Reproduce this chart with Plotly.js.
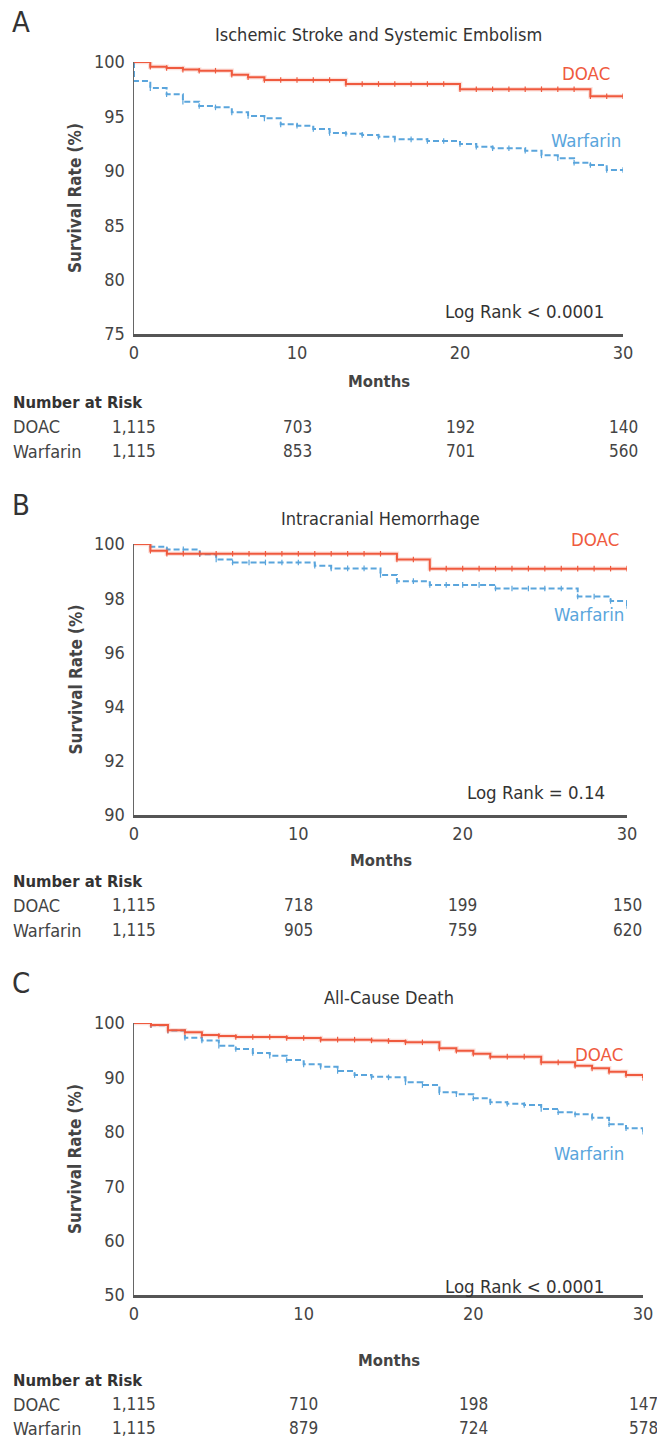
<!DOCTYPE html>
<html>
<head>
<meta charset="utf-8">
<script src="https://cdn.plot.ly/plotly-3.0.1.min.js"></script>
<style>html,body{margin:0;padding:0;background:#fff;}#chart{width:657px;height:1440px;}</style>
</head>
<body>
<div id="chart"></div>
<script>
// ---------- DATA ----------
var monthTicks = [0, 10, 20, 30];

// Panel A: Ischemic Stroke and Systemic Embolism
var aDoacT = [0,1,2,3,4,5,6,7,8,9,10,11,12,13,14,15,16,17,18,19,20,21,22,23,24,25,26,27,28,29,30];
var aDoacS = [100,99.57,99.45,99.3,99.2,99.2,98.83,98.6,98.35,98.35,98.35,98.35,98.35,97.98,97.98,97.98,97.98,97.98,97.98,97.98,97.5,97.5,97.5,97.5,97.5,97.5,97.5,97.5,96.85,96.85,96.85];
var aWarfT = [0,0,1,2,3,4,5,6,7,8,9,10,11,12,13,14,15,16,17,18,19,20,21,22,23,24,25,26,27,28,29,30];
var aWarfS = [100,98.25,97.6,97.03,96.35,95.95,95.83,95.37,95.04,94.82,94.27,94.15,93.84,93.47,93.41,93.3,93.14,92.89,92.89,92.74,92.74,92.46,92.22,92.07,92.07,91.85,91.42,91.15,90.75,90.53,90.07,90.07];
var aRiskDoac = ["1,115","703","192","140"];
var aRiskWarf = ["1,115","853","701","560"];

// Panel B: Intracranial Hemorrhage
var bDoacT = [0,1,2,3,4,5,6,7,8,9,10,11,12,13,14,15,16,17,18,19,20,21,22,23,24,25,26,27,28,29,30];
var bDoacS = [100,99.75,99.64,99.64,99.64,99.64,99.64,99.64,99.64,99.64,99.64,99.64,99.64,99.64,99.64,99.64,99.43,99.43,99.09,99.09,99.09,99.09,99.09,99.09,99.09,99.09,99.09,99.09,99.09,99.09,99.09];
var bWarfT = [0,1,2,3,4,5,6,7,8,9,10,11,12,13,14,15,16,17,18,19,20,21,22,23,24,25,26,27,28,29,30];
var bWarfS = [100,99.9,99.8,99.8,99.62,99.43,99.32,99.32,99.32,99.32,99.32,99.2,99.1,99.1,99.1,98.86,98.63,98.63,98.49,98.49,98.49,98.49,98.36,98.36,98.36,98.36,98.36,98.06,98.06,97.9,97.71];
var bRiskDoac = ["1,115","718","199","150"];
var bRiskWarf = ["1,115","905","759","620"];

// Panel C: All-Cause Death
var cDoacT = [0,1,2,3,4,5,6,7,8,9,10,11,12,13,14,15,16,17,18,19,20,21,22,23,24,25,26,27,28,29,30];
var cDoacS = [100,99.63,98.65,98.28,97.8,97.6,97.43,97.43,97.43,97.24,97.24,96.94,96.94,96.94,96.8,96.7,96.45,96.45,95.34,94.92,94.37,93.81,93.81,93.81,92.77,92.77,92.16,91.66,91.06,90.44,89.9];
var cWarfT = [0,1,2,3,4,5,6,7,8,9,10,11,12,13,14,15,16,17,18,19,20,21,22,23,24,25,26,27,28,29,30];
var cWarfS = [100,99.6,98.6,97.3,96.8,95.83,95.22,94.49,94.0,93.2,92.4,91.97,91.18,90.44,90.1,90.01,89.1,88.6,87.26,86.9,86.16,85.42,85.17,84.93,84.19,83.58,83.21,82.6,81.38,80.64,80.0];
var cRiskDoac = ["1,115","710","198","147"];
var cRiskWarf = ["1,115","879","724","578"];

// ---------- STYLE / LAYOUT ----------
var W = 657, H = 1440;
var RED = '#EF5A3E', BLUE = '#5AA5DC', TXT = '#3a3a3a';
var FONT = '"Liberation Sans Narrow", "DejaVu Sans Condensed", "Open Sans", sans-serif';
function px(x){ return x / W; }
function py(y){ return 1 - y / H; }

// censor marks at each month (value of curve at that month)
function censor(T, S){
  var xs = [], ys = [];
  for (var m = 1; m <= 30; m++) {
    var v = S[0];
    for (var i = 0; i < T.length; i++) { if (T[i] <= m) v = S[i]; }
    xs.push(m); ys.push(v);
  }
  return {x: xs, y: ys};
}

var panels = [
  {key:'', dT:aDoacT, dS:aDoacS, wT:aWarfT, wS:aWarfS, rd:aRiskDoac, rw:aRiskWarf,
   x0:134, x1:623, yTop:62, yBot:334, yr:[75,100], dy:5, title:'Ischemic Stroke and Systemic Embolism', letter:'A',
   letterY:22, titleY:34, monthsY:381, narY:402, rowD:427, rowW:451, logText:'Log Rank < 0.0001', logY:311, logX:606,
   dLab:[612,73], wLab:[623,141]},
  {key:'2', dT:bDoacT, dS:bDoacS, wT:bWarfT, wS:bWarfS, rd:bRiskDoac, rw:bRiskWarf,
   x0:134, x1:627, yTop:544, yBot:815, yr:[90,100], dy:2, title:'Intracranial Hemorrhage', letter:'B',
   letterY:505, titleY:519, monthsY:860, narY:881, rowD:905, rowW:930, logText:'Log Rank = 0.14', logY:792, logX:607,
   dLab:[621,539], wLab:[626,615]},
  {key:'3', dT:cDoacT, dS:cDoacS, wT:cWarfT, wS:cWarfS, rd:cRiskDoac, rw:cRiskWarf,
   x0:134, x1:643, yTop:1023, yBot:1295, yr:[50,100], dy:10, title:'All-Cause Death', letter:'C',
   letterY:983, titleY:997, monthsY:1360, narY:1380, rowD:1404, rowW:1428, logText:'Log Rank < 0.0001', logY:1286, logX:606,
   dLab:[625,1054], wLab:[626,1153]}
];

var data = [];
var layout = {
  width: W, height: H,
  margin: {l:0, r:0, t:0, b:0},
  paper_bgcolor: '#fff', plot_bgcolor: '#fff',
  showlegend: false,
  font: {family: FONT, color: TXT},
  annotations: []
};

panels.forEach(function(p){
  var xa = 'x' + p.key, ya = 'y' + p.key;
  // Warfarin
  data.push({x:p.wT, y:p.wS, xaxis:xa, yaxis:ya, type:'scatter', mode:'lines',
    line:{shape:'hv', color:BLUE, width:2, dash:'6px,3px'}, hoverinfo:'skip'});
  var cw = censor(p.wT, p.wS);
  data.push({x:cw.x, y:cw.y, xaxis:xa, yaxis:ya, type:'scatter', mode:'markers',
    marker:{symbol:'line-ns', size:4, line:{color:BLUE, width:1.2}}, hoverinfo:'skip'});
  // DOAC halo + line
  data.push({x:p.dT, y:p.dS, xaxis:xa, yaxis:ya, type:'scatter', mode:'lines',
    line:{shape:'hv', color:'rgba(239,90,62,0.18)', width:4.5}, hoverinfo:'skip'});
  data.push({x:p.dT, y:p.dS, xaxis:xa, yaxis:ya, type:'scatter', mode:'lines',
    line:{shape:'hv', color:RED, width:2}, hoverinfo:'skip'});
  var cd = censor(p.dT, p.dS);
  data.push({x:cd.x, y:cd.y, xaxis:xa, yaxis:ya, type:'scatter', mode:'markers',
    marker:{symbol:'line-ns', size:4, line:{color:RED, width:1.2}}, hoverinfo:'skip'});

  var xName = 'xaxis' + p.key, yName = 'yaxis' + p.key;
  var yt = []; for (var v = p.yr[0]; v <= p.yr[1] + 1e-9; v += p.dy) yt.push(v);
  layout[xName] = {domain:[px(p.x0), px(p.x1)], range:[0,30], anchor:ya,
    tickvals:monthTicks, ticks:'', showgrid:false, zeroline:false,
    showline:true, linecolor:'#555', linewidth:2.5, ticklabelstandoff:1,
    tickfont:{size:18, color:'#444', family:FONT}, fixedrange:true};
  layout[yName] = {domain:[py(p.yBot), py(p.yTop)], range:p.yr, anchor:xa,
    tickvals:yt, ticks:'', showgrid:false, zeroline:false,
    showline:true, linecolor:'#666', linewidth:1.5, ticklabelstandoff:4,
    tickfont:{size:18, color:'#444', family:FONT}, fixedrange:true};

  var A = layout.annotations;
  function ann(o){ o.showarrow = false; A.push(o); }
  ann({text:p.letter, xref:'paper', yref:'paper', x:px(10), y:py(p.letterY), xanchor:'left', yanchor:'middle',
       font:{size:29, color:'#333', family:FONT}});
  ann({text:p.title, xref:xa, yref:'paper', x:15, y:py(p.titleY), xanchor:'center', yanchor:'middle',
       font:{size:18, color:'#333', family:FONT}});
  ann({text:'<b>Survival Rate (%)</b>', xref:'paper', yref:'paper', x:px(75), y:py((p.yTop+p.yBot)/2),
       xanchor:'center', yanchor:'middle', textangle:-90, font:{size:17, color:'#444', family:FONT}});
  ann({text:'<b>Months</b>', xref:xa, yref:'paper', x:15, y:py(p.monthsY), xanchor:'center', yanchor:'middle',
       font:{size:16.5, color:'#444', family:FONT}});
  ann({text:p.logText, xref:'paper', yref:'paper', x:px(p.logX), y:py(p.logY), xanchor:'right', yanchor:'middle',
       font:{size:18.5, color:'#333', family:FONT}});
  ann({text:'DOAC', xref:'paper', yref:'paper', x:px(p.dLab[0]), y:py(p.dLab[1]), xanchor:'right', yanchor:'middle',
       font:{size:18.5, color:RED, family:FONT}});
  ann({text:'Warfarin', xref:'paper', yref:'paper', x:px(p.wLab[0]), y:py(p.wLab[1]), xanchor:'right', yanchor:'middle',
       font:{size:18.5, color:BLUE, family:FONT}});
  ann({text:'<b>Number at Risk</b>', xref:'paper', yref:'paper', x:px(11), y:py(p.narY), xanchor:'left', yanchor:'middle',
       font:{size:16.5, color:'#333', family:FONT}});
  ann({text:'DOAC', xref:'paper', yref:'paper', x:px(11), y:py(p.rowD), xanchor:'left', yanchor:'middle',
       font:{size:18, color:'#444', family:FONT}});
  ann({text:'Warfarin', xref:'paper', yref:'paper', x:px(11), y:py(p.rowW), xanchor:'left', yanchor:'middle',
       font:{size:18, color:'#444', family:FONT}});
  for (var i = 0; i < monthTicks.length; i++) {
    ann({text:p.rd[i], xref:xa, yref:'paper', x:monthTicks[i], y:py(p.rowD), xanchor:'center', yanchor:'middle',
         font:{size:17, color:'#444', family:FONT}});
    ann({text:p.rw[i], xref:xa, yref:'paper', x:monthTicks[i], y:py(p.rowW), xanchor:'center', yanchor:'middle',
         font:{size:17, color:'#444', family:FONT}});
  }
});

Plotly.newPlot('chart', data, layout, {staticPlot:true, displayModeBar:false});
</script>
</body>
</html>
